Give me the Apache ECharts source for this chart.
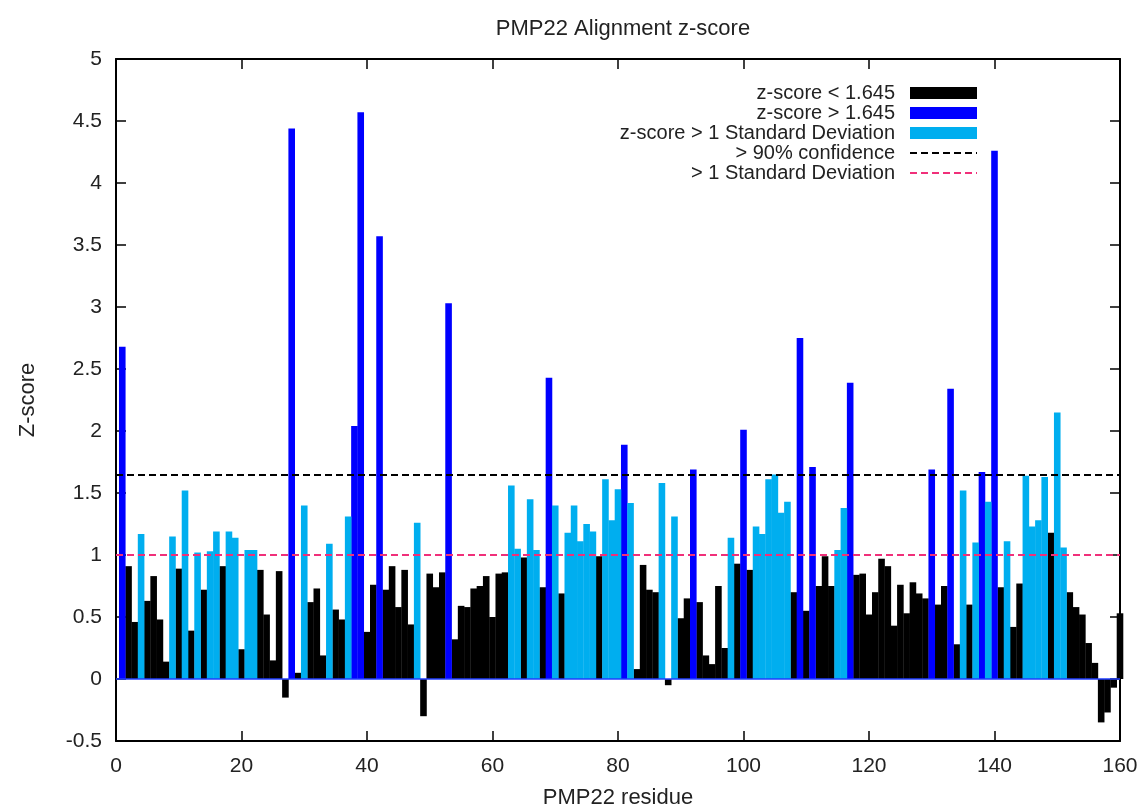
<!DOCTYPE html>
<html>
<head>
<meta charset="utf-8">
<script src="https://cdn.jsdelivr.net/npm/echarts@6/dist/echarts.min.js"></script>
<style>
html,body{margin:0;padding:0;background:#fff;}
#chart{width:1145px;height:810px;}
</style>
</head>
<body>
<div id="chart"></div>
<script>
// z-score per residue (index 0 = residue 1)
const zScores = [
  2.68,0.91,0.46,1.17,0.63,0.83,0.48,0.14,1.15,0.89,
  1.52,0.39,1.02,0.72,1.03,1.19,0.91,1.19,1.14,0.24,
  1.04,1.04,0.88,0.52,0.15,0.87,-0.15,4.44,0.05,1.40,
  0.62,0.73,0.19,1.09,0.56,0.48,1.31,2.04,4.57,0.38,
  0.76,3.57,0.72,0.91,0.58,0.88,0.44,1.26,-0.30,0.85,
  0.74,0.86,3.03,0.32,0.59,0.58,0.73,0.75,0.83,0.50,
  0.85,0.86,1.56,1.05,0.98,1.45,1.04,0.74,2.43,1.40,
  0.69,1.18,1.40,1.11,1.25,1.19,0.99,1.61,1.28,1.53,
  1.89,1.42,0.08,0.92,0.72,0.70,1.58,-0.05,1.31,0.49,
  0.65,1.69,0.62,0.19,0.12,0.75,0.25,1.14,0.93,2.01,
  0.88,1.23,1.17,1.61,1.65,1.34,1.43,0.70,2.75,0.55,
  1.71,0.75,0.99,0.75,1.04,1.38,2.39,0.84,0.85,0.52,
  0.70,0.97,0.91,0.43,0.76,0.53,0.78,0.69,0.65,1.69,
  0.60,0.75,2.34,0.28,1.52,0.60,1.10,1.67,1.43,4.26,
  0.74,1.11,0.42,0.77,1.64,1.23,1.28,1.63,1.18,2.15,
  1.06,0.70,0.58,0.52,0.29,0.13,-0.35,-0.27,-0.07,0.53
];
// residues drawn in blue (z-score > 1.645)
const blueResidues = [1,28,38,39,42,53,69,81,92,100,109,111,117,130,133,138,140];
// residues drawn in light blue (> 1 standard deviation)
const cyanResidues = [4,9,11,13,15,16,18,19,21,22,30,34,37,48,63,64,66,67,70,72,73,74,75,76,78,79,80,82,87,89,98,102,103,104,105,106,107,115,116,135,137,139,142,145,146,147,148,150,151];
const confidence90 = 1.645;
const oneSD = 1.0;
const xTicks = [0,20,40,60,80,100,120,140,160];
const seriesNames = ['z-score < 1.645','z-score > 1.645','z-score > 1 Standard Deviation','> 90% confidence','> 1 Standard Deviation'];

const blackData = [], blueData = [], cyanData = [];
zScores.forEach(function(v, i){
  const r = i + 1;
  if (blueResidues.indexOf(r) >= 0) blueData.push([r, v]);
  else if (cyanResidues.indexOf(r) >= 0) cyanData.push([r, v]);
  else blackData.push([r, v]);
});

const FONT = '"Liberation Sans", Arial, Helvetica, sans-serif';
const chart = echarts.init(document.getElementById('chart'), null, {renderer:'canvas'});
const barCommon = {type:'bar', barWidth:6.6, barGap:'-100%', animation:false};
const frameLine = {show:true, onZero:false, lineStyle:{color:'#000', width:2}};
const frameTick = {show:true, inside:true, length:10, lineStyle:{color:'#000', width:1.5}};
const hiddenSymbol = {color:'rgba(0,0,0,0)', borderColor:'rgba(0,0,0,0)', borderWidth:0, opacity:0};

chart.setOption({
  backgroundColor:'#ffffff',
  animation:false,
  title:{
    text:'PMP22 Alignment z-score', left:618, textAlign:'center', top:13,
    textStyle:{fontFamily:FONT, fontSize:22, fontWeight:'normal', color:'#222'}
  },
  grid:{left:116, right:25, top:59, bottom:69, containLabel:false, outerBoundsMode:'none'},
  legend:{
    orient:'vertical', align:'right', right:162, top:78,
    itemWidth:67, itemHeight:12, itemGap:0,
    textStyle:{fontFamily:FONT, fontSize:20, color:'#222', lineHeight:20, padding:[0,10,0,0]},
    data:[
      {name:seriesNames[0], icon:'rect'},
      {name:seriesNames[1], icon:'rect'},
      {name:seriesNames[2], icon:'rect'},
      {name:seriesNames[3], itemStyle:hiddenSymbol},
      {name:seriesNames[4], itemStyle:hiddenSymbol}
    ]
  },
  xAxis:[{
    type:'value', min:0, max:160, interval:20,
    name:'PMP22 residue', nameLocation:'middle', nameGap:46,
    nameTextStyle:{fontFamily:FONT, fontSize:22, color:'#222'},
    axisLine:frameLine, axisTick:frameTick,
    axisLabel:{fontFamily:FONT, fontSize:21, color:'#222', margin:15,
      formatter:function(v){return xTicks.indexOf(v)>=0 ? String(v) : '';}},
    splitLine:{show:false}
  },{
    type:'value', min:0, max:160, interval:20, position:'top',
    axisLine:frameLine, axisTick:frameTick,
    axisLabel:{show:false}, splitLine:{show:false}
  }],
  yAxis:[{
    type:'value', min:-0.5, max:5, interval:0.5,
    name:'Z-score', nameLocation:'middle', nameGap:77, nameRotate:90,
    nameTextStyle:{fontFamily:FONT, fontSize:22, color:'#222'},
    axisLine:frameLine, axisTick:frameTick,
    axisLabel:{fontFamily:FONT, fontSize:21, color:'#222', margin:14},
    splitLine:{show:false}
  },{
    type:'value', min:-0.5, max:5, interval:0.5, position:'right',
    axisLine:frameLine, axisTick:frameTick,
    axisLabel:{show:false}, splitLine:{show:false}
  }],
  series:[
    Object.assign({}, barCommon, {
      name:seriesNames[0], data:blackData, itemStyle:{color:'#000000'}, z:2,
      markLine:{silent:true, symbol:['none','none'], label:{show:false},
        lineStyle:{color:'#1f3cff', type:'solid', width:1.5},
        data:[{yAxis:0}]}
    }),
    Object.assign({}, barCommon, {name:seriesNames[1], data:blueData, itemStyle:{color:'#0000ff'}, z:2}),
    Object.assign({}, barCommon, {name:seriesNames[2], data:cyanData, itemStyle:{color:'#00aeef'}, z:2}),
    {type:'line', name:seriesNames[3], data:[[0,confidence90],[160,confidence90]], symbol:'none',
      lineStyle:{color:'#000', type:[7,4], width:2}, itemStyle:{color:'#000'}, z:5, silent:true},
    {type:'line', name:seriesNames[4], data:[[0,oneSD],[160,oneSD]], symbol:'none',
      lineStyle:{color:'#f0307a', type:[7,4], width:2}, itemStyle:{color:'#f0307a'}, z:5, silent:true}
  ]
});
</script>
</body>
</html>
